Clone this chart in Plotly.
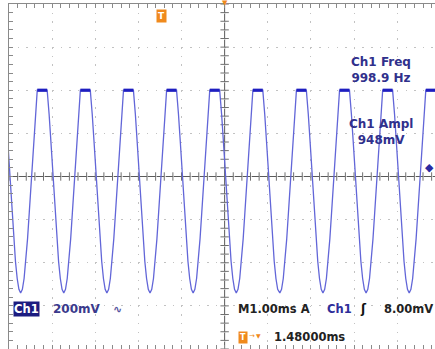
import plotly.graph_objects as go
import numpy as np

# ---- data ----
# times (ms, relative to screen centre) of each clipped crest
peak_times_ms = [-5.23, -4.23, -3.23, -2.23, -1.23, -0.23, 0.77, 1.78, 2.78, 3.78, 4.78, 5.78]
# one cycle of the waveform around a crest: offset (ms) and voltage (V)
cycle_offset_ms = [-0.50, -0.46, -0.42, -0.38, -0.34, -0.30, -0.25, -0.20, -0.16, -0.13, -0.115,
                   0.115, 0.13, 0.16, 0.20, 0.25, 0.30, 0.34, 0.38, 0.42, 0.46]
cycle_volts = [-0.54, -0.523, -0.473, -0.394, -0.289, -0.167, 0.0, 0.167, 0.289, 0.370, 0.40,
               0.40, 0.370, 0.289, 0.167, 0.0, -0.167, -0.289, -0.394, -0.473, -0.523]
clip_level_v = 0.40
clip_half_width_ms = 0.115

volts_per_div = 0.2
ms_per_div = 1.0

# ---- build traces ----
wx, wy = [], []
for p in peak_times_ms:
    for o, v in zip(cycle_offset_ms, cycle_volts):
        wx.append(p + o)
        wy.append(v)

fx, fy = [], []
for p in peak_times_ms:
    fx += [p - clip_half_width_ms, p + clip_half_width_ms, None]
    fy += [clip_level_v, clip_level_v, None]

W, H = 435, 349
ML, MT = 9, 4
PW, PH = W - ML, H - MT
xr = [-5 * ms_per_div, -5 * ms_per_div + PW / (PH / 8)]
yr = [-4 * volts_per_div, 4 * volts_per_div]

fig = go.Figure()

# centre cross ticks
minor_x = np.arange(-5, 5.0001, 0.2) * ms_per_div
minor_y = np.arange(-4, 4.0001, 0.2) * volts_per_div
fig.add_trace(go.Scatter(x=minor_x, y=[0] * len(minor_x), mode="markers",
                         marker=dict(symbol="line-ns", size=6, line=dict(color="#707070", width=1)),
                         hoverinfo="skip", showlegend=False))
fig.add_trace(go.Scatter(x=[0] * len(minor_y), y=minor_y, mode="markers",
                         marker=dict(symbol="line-ew", size=6, line=dict(color="#707070", width=1)),
                         hoverinfo="skip", showlegend=False))

fig.add_trace(go.Scatter(x=wx, y=wy, mode="lines",
                         line=dict(color="#6266d8", width=1.3),
                         hoverinfo="skip", showlegend=False))
fig.add_trace(go.Scatter(x=fx, y=fy, mode="lines",
                         line=dict(color="#1e1ec0", width=3.2),
                         hoverinfo="skip", showlegend=False))

fig.add_shape(type="line", xref="x", yref="y", x0=xr[0], x1=xr[1], y0=0, y1=0,
              line=dict(color="#5a5a5a", width=1), layer="below")
fig.add_shape(type="line", xref="x", yref="y", x0=0, x1=0, y0=yr[0], y1=yr[1],
              line=dict(color="#5a5a5a", width=1), layer="below")


def P(px, py):
    return (px - ML) / PW, (H - py) / PH


def ann(text, px, py, size=12, color="#30308c", bold=True, xanchor="center", bg=None, pad=0):
    x, y = P(px, py)
    fig.add_annotation(x=x, y=y, xref="paper", yref="paper", text=("<b>%s</b>" % text) if bold else text,
                       showarrow=False, xanchor=xanchor, yanchor="middle", align="center",
                       font=dict(family="DejaVu Sans", size=size, color=color),
                       bgcolor=bg, borderpad=pad)


ann("Ch1 Freq<br>998.9 Hz", 381, 70, 12)
ann("Ch1 Ampl<br>948mV", 381, 131.5, 12)

ann("Ch1", 26.5, 308.5, 11.5, color="white", bg="#1c1c80", pad=0)
ann("200mV", 76.5, 308.5, 12, color="#3a3a8c")
ann("∿", 118, 309, 11, color="#5555a0")
ann("M1.00ms A", 237, 309, 11.5, color="#222", xanchor="left")
ann("Ch1", 339.5, 309, 11.5, color="#2e2e9a")
ann("ʃ", 363, 309, 12, color="#111")
ann("8.00mV", 383, 309, 11.5, color="#222", xanchor="left")

ann("T", 242.5, 337, 8, color="white", bg="#f08a1c", pad=1)
ann("→", 252, 336, 7, color="#f08a1c", bold=False)
ann("▼", 258, 335, 6, color="#f08a1c", bold=False)
ann("1.48000ms", 273, 337, 11.5, color="#222", xanchor="left")

ann("T", 161, 16, 9, color="white", bg="#f08a1c", pad=1)
ann("▼", 225, 3, 7, color="#f08a1c", bold=False)
ann("◆", 429, 168, 11, color="#2a2aa0", bold=False)

fig.update_layout(
    width=W, height=H,
    margin=dict(l=ML, r=0, t=MT, b=0),
    paper_bgcolor="white", plot_bgcolor="white",
    showlegend=False,
    xaxis=dict(range=xr, showticklabels=False, zeroline=False,
               showgrid=True, tick0=0, dtick=ms_per_div,
               gridcolor="#c2c2c2", gridwidth=1, griddash="1.5px,7.12px",
               showline=True, linecolor="#8a8a8a", linewidth=1, mirror="ticks",
               ticks="inside", ticklen=4, tickcolor="#8a8a8a",
               minor=dict(dtick=0.2 * ms_per_div, ticks="inside", ticklen=4, tickcolor="#8a8a8a", showgrid=False)),
    yaxis=dict(range=yr, showticklabels=False, zeroline=False,
               showgrid=True, tick0=0, dtick=volts_per_div,
               gridcolor="#c2c2c2", gridwidth=1, griddash="1.5px,7.12px",
               showline=True, linecolor="#8a8a8a", linewidth=1, mirror=False,
               ticks="inside", ticklen=4, tickcolor="#8a8a8a",
               minor=dict(dtick=0.2 * volts_per_div, ticks="inside", ticklen=4, tickcolor="#8a8a8a", showgrid=False)),
)

fig.write_html("out.html")
